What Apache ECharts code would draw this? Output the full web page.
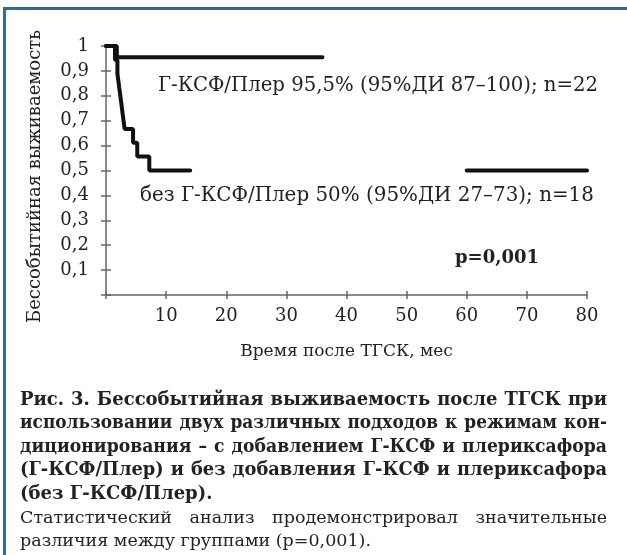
<!DOCTYPE html>
<html><head><meta charset="utf-8">
<script src="https://cdn.jsdelivr.net/npm/echarts@6/dist/echarts.min.js"></script>
<style>html,body{margin:0;padding:0;background:#fff}#c{width:627px;height:555px}</style>
</head><body><div id="c"></div>
<script>
// ---- data ----
const xLabels = ['', '10', '20', '30', '40', '50', '60', '70', '80'];
const yLabels = ['', '0,1', '0,2', '0,3', '0,4', '0,5', '0,6', '0,7', '0,8', '0,9', '1'];
const gTimes = [0, 1.8, 36];
const gSurv = [1, 0.955, 0.955];
const noTimes = [0, 1.5, 1.9, 2.2, 2.5, 2.8, 3.1, 4.5, 5.2, 7.2, 14];
const noSurv = [1, 0.944, 0.889, 0.833, 0.778, 0.722, 0.667, 0.611, 0.556, 0.5, 0.5];
const noTailTimes = [60, 80];
const noTailSurv = [0.5, 0.5];
const gLabel = 'Г-КСФ/Плер 95,5% (95%ДИ 87–100); n=22';
const noLabel = 'без Г-КСФ/Плер 50% (95%ДИ 27–73); n=18';
const pLabel = 'p=0,001';
const yTitle = 'Бессобытийная выживаемость';
const xTitle = 'Время после ТГСК, мес';
const captionBold = [
  'Рис. 3. Бессобытийная выживаемость после ТГСК при',
  'использовании двух различных подходов к режимам кон-',
  'диционирования – с добавлением Г-КСФ и плериксафора',
  '(Г-КСФ/Плер) и без добавления Г-КСФ и плериксафора',
  '(без Г-КСФ/Плер).'
];
const captionNormal = [
  'Статистический анализ продемонстрировал значительные',
  'различия между группами (p=0,001).'
];

// ---- layout ----
const FF = '"DejaVu Serif", serif';
const TXT = '#222';
const zip = (a, b) => a.map((v, i) => [v, b[i]]);

const ctx = document.createElement('canvas').getContext('2d');
function captionLine(text, font, x0, x1, y, justify) {
  if (!justify) {
    return [{type: 'text', x: x0, y: y, style: {text: text, font: font, fill: TXT, textVerticalAlign: 'middle'}}];
  }
  ctx.font = font;
  const words = text.split(' ');
  const widths = words.map(w => ctx.measureText(w).width);
  const total = widths.reduce((s, w) => s + w, 0);
  const minGap = 7;
  const avail = x1 - x0;
  let sc = 1;
  if (total + minGap * (words.length - 1) > avail) sc = (avail - minGap * (words.length - 1)) / total;
  const gap = (avail - total * sc) / (words.length - 1);
  const out = [];
  let x = x0;
  words.forEach((w, i) => {
    out.push({type: 'text', x: x, y: y, scaleX: sc, style: {text: w, font: font, fill: TXT, textVerticalAlign: 'middle'}});
    x += widths[i] * sc + gap;
  });
  return out;
}

const graphics = [
  {type: 'line', shape: {x1: 4.5, y1: 8, x2: 4.5, y2: 555}, style: {stroke: '#1f6db5', lineWidth: 3}},
  {type: 'line', shape: {x1: 3, y1: 8.5, x2: 627, y2: 8.5}, style: {stroke: '#1f6db5', lineWidth: 3}},
  {type: 'text', x: 158, y: 86, style: {text: gLabel, font: '19.7px ' + FF, fill: TXT, textVerticalAlign: 'middle'}},
  {type: 'text', x: 140, y: 196, style: {text: noLabel, font: '19.9px ' + FF, fill: TXT, textVerticalAlign: 'middle'}},
  {type: 'text', x: 455, y: 258, style: {text: pLabel, font: 'bold 18px ' + FF, fill: TXT, textVerticalAlign: 'middle'}}
];
const lineH = 23.6;
let cy = 400;
captionBold.forEach((t, i) => {
  captionLine(t, 'bold 18px ' + FF, 20, 607, cy, i < captionBold.length - 1).forEach(g => graphics.push(g));
  cy += lineH;
});
captionNormal.forEach((t, i) => {
  captionLine(t, '17.5px ' + FF, 20, 607, cy, i < captionNormal.length - 1).forEach(g => graphics.push(g));
  cy += lineH;
});

const axisLine = {show: true, lineStyle: {color: '#666', width: 1.5}};
const chart = echarts.init(document.getElementById('c'), null, {renderer: 'canvas'});
chart.setOption({
  backgroundColor: '#fff',
  animation: false,
  grid: {left: 106, right: 40, top: 46, bottom: 260},
  xAxis: [{
    type: 'value', min: 0, max: 80, interval: 10,
    axisLine: axisLine,
    axisTick: {show: true, length: 4, lineStyle: {color: '#666', width: 1.5}},
    axisLabel: {margin: 12, color: TXT, fontFamily: FF, fontSize: 18, formatter: v => xLabels[Math.round(v / 10)]},
    splitLine: {show: false},
    name: xTitle, nameLocation: 'middle', nameGap: 48,
    nameTextStyle: {color: TXT, fontFamily: FF, fontSize: 17}
  }, {
    type: 'value', min: 0, max: 80, interval: 10, position: 'bottom',
    axisLine: {show: false},
    axisTick: {show: true, inside: true, length: 4, lineStyle: {color: '#666', width: 1.5}},
    axisLabel: {show: false}, splitLine: {show: false}
  }],
  yAxis: [{
    type: 'value', min: 0, max: 1, interval: 0.1,
    axisLine: axisLine,
    axisTick: {show: true, length: 5, lineStyle: {color: '#666', width: 1.5}},
    axisLabel: {margin: 17, color: TXT, fontFamily: FF, fontSize: 18, formatter: v => yLabels[Math.round(v * 10)]},
    splitLine: {show: false},
    name: yTitle, nameLocation: 'middle', nameGap: 62,
    nameTextStyle: {color: TXT, fontFamily: FF, fontSize: 18, padding: [0, 12, 0, 0]}
  }, {
    type: 'value', min: 0, max: 1, interval: 0.1, position: 'left',
    axisLine: {show: false},
    axisTick: {show: true, inside: true, length: 5, lineStyle: {color: '#666', width: 1.5}},
    axisLabel: {show: false}, splitLine: {show: false}
  }],
  series: [
    {type: 'line', step: 'end', symbol: 'none', data: zip(gTimes, gSurv),
     lineStyle: {color: '#111', width: 4, cap: 'round'}},
    {type: 'line', step: 'end', symbol: 'none', data: zip(noTimes, noSurv),
     lineStyle: {color: '#111', width: 4, cap: 'round'}},
    {type: 'line', step: 'end', symbol: 'none', data: zip(noTailTimes, noTailSurv),
     lineStyle: {color: '#111', width: 4, cap: 'round'}}
  ],
  graphic: graphics
});
</script></body></html>
